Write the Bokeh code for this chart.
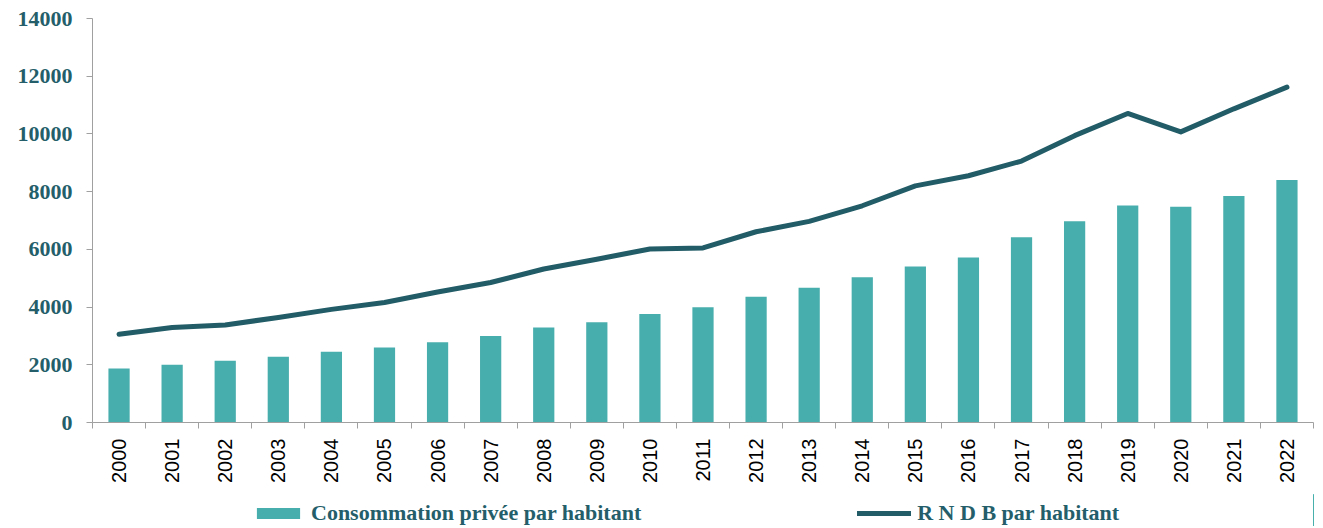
import math
from bokeh.plotting import figure
from bokeh.layouts import column
from bokeh.models import Range1d, FixedTicker, Legend, LegendItem, ColumnDataSource
from bokeh.embed import file_html
from bokeh.resources import INLINE

years = list(range(2000, 2023))
consommation = [1870, 2000, 2140, 2280, 2450, 2600, 2780, 3000, 3290, 3470, 3760,
                3990, 4360, 4670, 5030, 5410, 5720, 6420, 6970, 7520, 7480, 7850, 8400]
rndb = [3060, 3290, 3380, 3640, 3920, 4160, 4520, 4850, 5320, 5660, 6010,
        6050, 6610, 6970, 7510, 8200, 8550, 9060, 9940, 10710, 10070, 10870, 11620]
y_ticks = [0, 2000, 4000, 6000, 8000, 10000, 12000, 14000]
series_names = ["Consommation privée par habitant", "R N D B par habitant"]

BAR = "#48AEAD"
LINE = "#215C67"
TXT = "#245E6A"

src = ColumnDataSource(dict(year=years, cons=consommation, rndb=rndb))

p = figure(width=1318, height=494, output_backend="svg", toolbar_location=None,
           x_range=Range1d(years[0] - 0.5, years[-1] + 0.5),
           y_range=Range1d(y_ticks[0], y_ticks[-1]),
           min_border_left=92, min_border_top=18, min_border_right=5, min_border_bottom=72)
p.outline_line_color = None
p.xgrid.grid_line_color = None
p.ygrid.grid_line_color = None

p.vbar(x="year", top="cons", width=0.4, source=src, fill_color=BAR, line_color=None)
p.line(x="year", y="rndb", source=src, line_color=LINE, line_width=5,
       line_join="round", line_cap="round")

# y axis
p.yaxis.ticker = FixedTicker(ticks=y_ticks)
p.yaxis.axis_line_color = "#A0A0A0"
p.yaxis.major_tick_line_color = "#A0A0A0"
p.yaxis.major_tick_out = 6
p.yaxis.major_tick_in = 0
p.yaxis.minor_tick_line_color = None
p.yaxis.major_label_text_font = "Liberation Serif"
p.yaxis.major_label_text_font_style = "bold"
p.yaxis.major_label_text_font_size = "22px"
p.yaxis.major_label_text_color = TXT
p.yaxis.major_label_standoff = 14

# x axis
p.xaxis.ticker = FixedTicker(ticks=years, minor_ticks=[y - 0.5 for y in years] + [years[-1] + 0.5])
p.xaxis.major_label_overrides = {y: str(y) for y in years}
p.xaxis.axis_line_color = "#A0A0A0"
p.xaxis.major_tick_line_color = None
p.xaxis.minor_tick_line_color = "#A0A0A0"
p.xaxis.minor_tick_out = 6
p.xaxis.minor_tick_in = 0
p.xaxis.major_label_orientation = math.pi / 2
p.xaxis.major_label_text_font = "Liberation Sans"
p.xaxis.major_label_text_font_size = "20px"
p.xaxis.major_label_text_color = "#000000"
p.xaxis.major_label_standoff = 10

# legend strip below the chart (its renderers share the data but fall outside the strip's range)
lg = figure(width=1318, height=32, output_backend="svg", toolbar_location=None,
            x_range=Range1d(0, 1), y_range=Range1d(0, 1),
            x_axis_type=None, y_axis_type=None,
            min_border_left=0, min_border_right=0, min_border_top=0, min_border_bottom=0)
lg.outline_line_color = None
lg.xgrid.grid_line_color = None
lg.ygrid.grid_line_color = None
lr_bar = lg.vbar(x="year", top="cons", width=0.4, source=src, fill_color=BAR, line_color=None)
lr_line = lg.line(x="year", y="rndb", source=src, line_color=LINE, line_width=5, line_cap="round")

legend = Legend(items=[LegendItem(label=series_names[0], renderers=[lr_bar]),
                       LegendItem(label=series_names[1], renderers=[lr_line])],
                orientation="horizontal", location=(159, 0),
                glyph_width=54, glyph_height=14, spacing=216, label_standoff=6,
                label_text_font="Liberation Serif", label_text_font_style="bold",
                label_text_font_size="22px", label_text_color=TXT,
                border_line_color=None, background_fill_alpha=0,
                padding=0, margin=0)
lg.add_layout(legend, "center")

layout = column(p, lg, spacing=0)
open("out.html", "w").write(file_html(layout, INLINE))
